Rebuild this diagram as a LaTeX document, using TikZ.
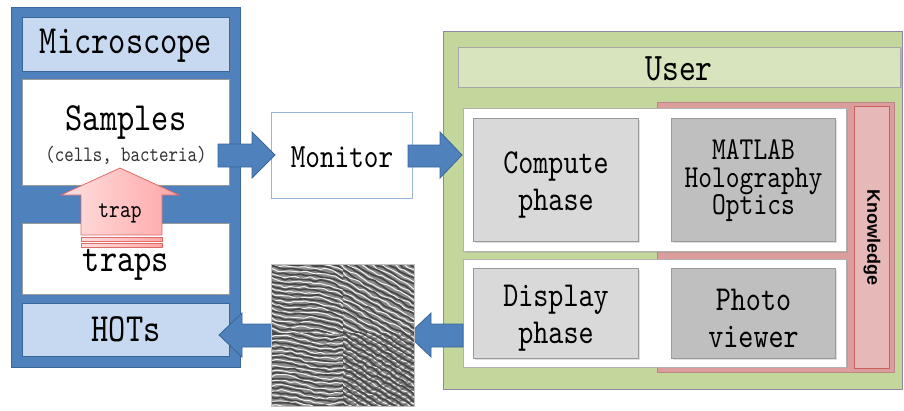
\documentclass[tikz,border=0pt]{standalone}
\usepackage{fontspec}
\newfontfamily\simf{lmmono10-regular.otf}[FakeStretch=0.82]
\newfontfamily\arial{Liberation Sans}
\usetikzlibrary{shadows,decorations.pathmorphing}
\definecolor{myblue}{HTML}{4F81BD}
\definecolor{blueedge}{HTML}{3A6699}
\definecolor{lblue}{HTML}{C6D9F1}
\definecolor{grn}{HTML}{C3D69B}
\definecolor{grnedge}{HTML}{8F86A8}
\definecolor{lgrn}{HTML}{D7E4BD}
\definecolor{g1}{HTML}{D9D9D9}
\definecolor{g2}{HTML}{BFBFBF}
\definecolor{gedge}{HTML}{9A9A9A}
\definecolor{pinkbg}{HTML}{DC9E9D}
\definecolor{pinkbar}{HTML}{E6B9B8}
\definecolor{rededge}{HTML}{C9605C}
\definecolor{trapL}{HTML}{FFE0E0}
\definecolor{trapR}{HTML}{FFA6A6}
\definecolor{trapedge}{HTML}{E06A68}
\definecolor{texgray}{HTML}{8A8A8A}
\newcommand\fs[1]{\fontsize{#1bp}{#1bp}\selectfont}
\newcommand\fsb[2]{\fontsize{#1bp}{#2bp}\selectfont\lineskiplimit=-100bp\relax}
\begin{document}
\begin{tikzpicture}[x=1bp,y=-1bp,
  every node/.style={inner sep=0pt, outer sep=0pt},
  shd/.style={drop shadow={opacity=0.25, shadow xshift=1.5bp, shadow yshift=-1.5bp}},
  barrow/.style={fill=myblue, draw=blueedge, line width=0.8bp},
  big/.style={font=\simf\fs{40}},
  dk/.style={draw=black!72, line width=1.7bp, decorate, decoration={random steps, segment length=5bp, amplitude=1.3bp}, rounded corners=1bp},
  wt/.style={draw=white!90!gray, line width=1bp, decorate, decoration={random steps, segment length=5bp, amplitude=1.3bp}, rounded corners=1bp},
]
\pgfmathsetseed{7}
\useasboundingbox (0,0) rectangle (904,410);
% ---------- left group ----------
\node[fill=myblue, draw=blueedge, line width=1bp, minimum width=230, minimum height=361] (micro) at (126,187.5) {};
\node[fill=lblue, draw=blueedge, line width=0.8bp, minimum width=208, minimum height=54, shd] (mscope) at (126,44) {};
\node[big] at (126,46) {Microscope};
\node[fill=white, draw=gedge, line width=0.6bp, minimum width=208, minimum height=106, shd] (samples) at (126,132) {};
\node[fill=white, draw=gedge, line width=0.6bp, minimum width=208, minimum height=71, shd] (traps) at (126,258.5) {};
\node[fill=lblue, draw=blueedge, line width=0.8bp, minimum width=208, minimum height=53, shd] (hots) at (126,329.5) {};
\node[big] (samplest) at (126,122) {Samples};
\node[font=\simf\fs{22}, text=black!80] (cells) at (126,155) {(cells, bacteria)};
\node[big] (trapst) at (126,265) {traps};
\node[big] (hotst) at (126,329) {HOTs};
% trap arrow
\path[left color=trapL, right color=trapR, draw=trapedge, line width=0.8bp]
  (120,168) -- (179,195) -- (162,195) -- (162,235) -- (81,235) -- (81,195) -- (61,195) -- cycle;
\path[left color=trapL, right color=trapR, draw=trapedge, line width=0.8bp] (81,237) rectangle (162,241);
\path[left color=trapL, right color=trapR, draw=trapedge, line width=0.8bp] (81,243) rectangle (162,247);
\node[font=\simf\fs{25}] (trapt) at (120,213) {trap};
% ---------- monitor ----------
\node[fill=white, draw=lblue!60!myblue, line width=0.8bp, minimum width=142, minimum height=87] (monitor) at (342,155.5) {};
\node[font=\simf\fs{34}] (monitort) at (342,157) {Monitor};
% ---------- user group ----------
\node[fill=grn, draw=grnedge, line width=0.8bp, minimum width=460, minimum height=359] (user) at (673,210.5) {};
\node[fill=lgrn, draw=gray!70, line width=0.6bp, minimum width=444, minimum height=40, shd] (userlab) at (679,67) {};
\node[font=\simf\fs{39}] (usert) at (679,69) {User};
\node[fill=pinkbg, draw=pinkbg!85!black, line width=0.5bp, minimum width=238, minimum height=271] (know) at (776,237.5) {};
\node[fill=pinkbar, draw=rededge, line width=1bp, minimum width=36, minimum height=263] (kbar) at (872,237.5) {};
\node[rotate=-90, font=\arial\bfseries\fs{18}] (kt) at (872,237.5) {Knowledge};
\node[fill=white, draw=gray!60, line width=0.5bp, minimum width=384, minimum height=144, shd] (top) at (655,180) {};
\node[fill=white, draw=gray!60, line width=0.5bp, minimum width=384, minimum height=108, shd] (bot) at (655,313) {};
\node[fill=g1, draw=gedge, line width=0.8bp, minimum width=166, minimum height=124, shd] (compute) at (556,180) {};
\node[fill=g2, draw=gedge, line width=0.8bp, minimum width=165, minimum height=124, shd] (matlab) at (753.5,180) {};
\node[fill=g1, draw=gedge, line width=0.8bp, minimum width=166, minimum height=91, shd] (display) at (556,313.5) {};
\node[fill=g2, draw=gedge, line width=0.8bp, minimum width=165, minimum height=91, shd] (photo) at (753.5,313.5) {};
\node[font=\simf\fsb{35}{37}, align=center] (computet) at (556,185) {Compute\\phase};
\node[font=\simf\fsb{32}{27.5}, align=center] (matlabt) at (753.5,181) {MATLAB\\Holography\\Optics};
\node[font=\simf\fsb{35}{37}, align=center] (displayt) at (556,318) {Display\\phase};
\node[font=\simf\fsb{35}{37}, align=center] (photot) at (753.5,318) {Photo\\viewer};
% ---------- blue arrows ----------
\path[barrow] (218,144) -- (252,144) -- (252,132) -- (275,155) -- (252,178) -- (252,167) -- (218,167) -- cycle;
\path[barrow] (408,145) -- (440,145) -- (440,132) -- (462,155) -- (440,178) -- (440,167) -- (408,167) -- cycle;
\path[barrow] (463,324) -- (431,324) -- (431,313) -- (408,335) -- (431,357) -- (431,347) -- (463,347) -- cycle;
\path[barrow] (275,324) -- (242,324) -- (242,313) -- (219,335) -- (242,357) -- (242,347) -- (275,347) -- cycle;
% ---------- hologram texture ----------
\begin{scope}
\clip (271,264) rectangle (414,406);
\fill[texgray] (271,264) rectangle (414,406);
\begin{scope}
\clip (271,264) rectangle (343,333);
\foreach \i in {-8,...,16} {
  \draw[dk] (266,258+5*\i) .. controls (290,272+5*\i) and (312,256+5*\i) .. (348,276+5*\i);
  \draw[wt] (266,260.5+5*\i) .. controls (290,274.5+5*\i) and (312,258.5+5*\i) .. (348,278.5+5*\i);
}
\end{scope}
\begin{scope}
\clip (343,264) rectangle (414,333);
\foreach \i in {-14,...,14} {
  \draw[dk] (338,262+6*\i) -- (420,306+6*\i);
  \draw[wt] (338,265+6*\i) -- (420,309+6*\i);
}
\end{scope}
\begin{scope}
\clip (271,333) rectangle (343,406);
\foreach \i in {-4,...,16} {
  \draw[dk] (266,330+5*\i) .. controls (290,322+5*\i) and (312,342+5*\i) .. (348,334+5*\i);
  \draw[wt] (266,332.5+5*\i) .. controls (290,324.5+5*\i) and (312,344.5+5*\i) .. (348,336.5+5*\i);
}
\end{scope}
\begin{scope}
\clip (343,333) rectangle (414,406);
\foreach \i in {-14,...,14} {
  \draw[dk] (338,330+6*\i) -- (420,380+6*\i);
  \draw[wt] (338,333+6*\i) -- (420,383+6*\i);
}
\foreach \i in {-14,...,14} {
  \draw[dk, draw opacity=0.5] (338,410+6*\i) -- (420,360+6*\i);
}
\end{scope}
\end{scope}
\node[draw=gray!50, line width=0.4bp, minimum width=143, minimum height=142] (img) at (342.5,335) {};
\end{tikzpicture}
\end{document}
